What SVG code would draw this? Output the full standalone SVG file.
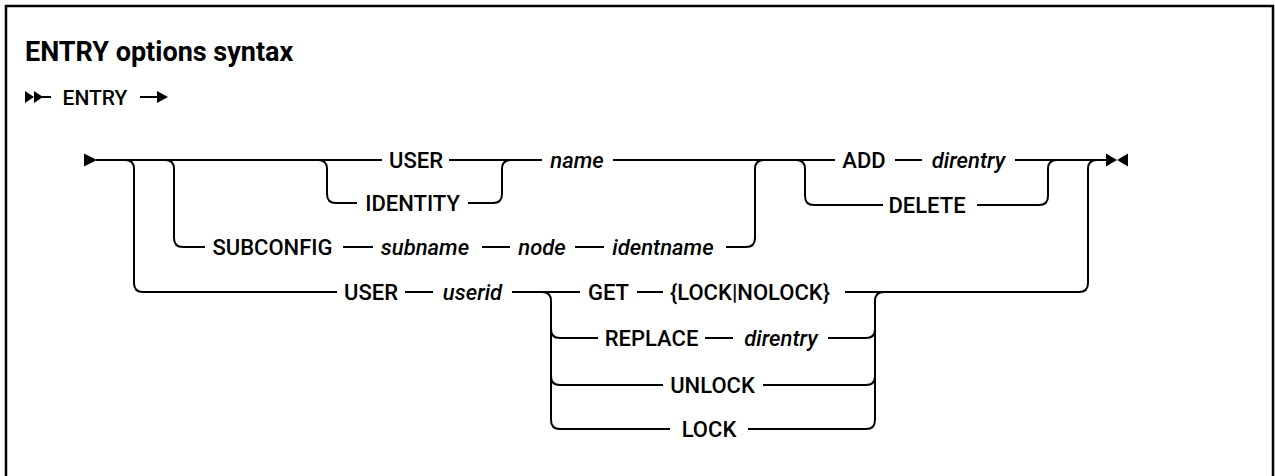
<svg xmlns="http://www.w3.org/2000/svg" width="1275" height="476" viewBox="0 0 1275 476">
<style>
.t{font-family:Roboto,"Liberation Sans",sans-serif;font-size:22px;font-weight:500;fill:#000;text-anchor:middle}
.i{font-style:italic}
.c{fill:none;stroke:#000;stroke-width:2}
.m{fill:#000}
</style>
<rect x="6" y="6" width="1267" height="500" fill="#fff" stroke="#000" stroke-width="2.5"/>
<text x="25" y="61" font-family="Roboto,'Liberation Sans',sans-serif" font-size="27" font-weight="bold" fill="#000">ENTRY options syntax</text>
<g id="start1">
<polygon class="m" points="25,91 34,97 25,103"/>
<polygon class="m" points="34,91 43,97 34,103"/>
<line class="c" x1="42" y1="97" x2="51" y2="97"/>
</g>
<g id="n-entry"><text class="t" x="95" y="104.5" style="font-size:21px">ENTRY</text></g>
<g id="cont1">
<line class="c" x1="140" y1="97" x2="160" y2="97"/>
<polygon class="m" points="157,91 168,97 157,103"/>
</g>
<g id="start2"><polygon class="m" points="84,153.5 97,160 84,166.5"/></g>
<g id="end"><polygon class="m" points="1106,153.5 1117,160 1106,166.5"/><polygon class="m" points="1128,153.5 1117,160 1128,166.5"/></g>
<g id="connectors">
<path class="c" d="M96,160 H382 M449,160 H542 M613,160 H835 M895,160 H922 M1015,160 H1108"/>
<path class="c" d="M318,160 Q327,160 327,169 V194 Q327,203 336,203 H357 M468,203 H493 Q502,203 502,194 V169 Q502,160 511,160"/>
<path class="c" d="M165,160 Q174,160 174,169 V238 Q174,247 183,247 H205 M343,247 H373 M482,247 H510 M575,247 H604 M726,247 H746 Q755,247 755,238 V169 Q755,160 764,160"/>
<path class="c" d="M125,160 Q134,160 134,169 V283 Q134,292 143,292 H337 M405,292 H433 M512,292 H580 M637,292 H663 M845,292 H1079 Q1088,292 1088,283 V169 Q1088,160 1097,160"/>
<path class="c" d="M796,160 Q805,160 805,169 V196 Q805,205 814,205 H883 M977,205 H1039 Q1048,205 1048,196 V169 Q1048,160 1057,160"/>
<path class="c" d="M542,292 Q551,292 551,301 V420 Q551,429 560,429 H670 M551,329 Q551,338 560,338 H598 M551,376 Q551,385 560,385 H663"/>
<path class="c" d="M884,292 Q875,292 875,301 V420 Q875,429 866,429 H748 M828,338 H866 Q875,338 875,329 M763,385 H866 Q875,385 875,376 M705,338 H733"/>
</g>
<g id="n-user1"><text class="t" x="416" y="167.8">USER</text></g>
<g id="n-name"><text class="t i" x="577" y="167.8">name</text></g>
<g id="n-add"><text class="t" x="864" y="167.8">ADD</text></g>
<g id="n-direntry1"><text class="t i" x="968.5" y="167.8">direntry</text></g>
<g id="n-identity"><text class="t" x="412.5" y="210.8">IDENTITY</text></g>
<g id="n-delete"><text class="t" x="927" y="212.8">DELETE</text></g>
<g id="n-subconfig"><text class="t" x="272.5" y="254.8">SUBCONFIG</text></g>
<g id="n-subname"><text class="t i" x="425" y="254.8">subname</text></g>
<g id="n-node"><text class="t i" x="542" y="254.8">node</text></g>
<g id="n-identname"><text class="t i" x="663" y="254.8">identname</text></g>
<g id="n-user2"><text class="t" x="371" y="299.8">USER</text></g>
<g id="n-userid"><text class="t i" x="472.5" y="299.8">userid</text></g>
<g id="n-get"><text class="t" x="608.5" y="299.8">GET</text></g>
<g id="n-locknolock"><text class="t" x="750" y="299.8">{LOCK|NOLOCK}</text></g>
<g id="n-replace"><text class="t" x="651.5" y="345.8">REPLACE</text></g>
<g id="n-direntry2"><text class="t i" x="781" y="345.8">direntry</text></g>
<g id="n-unlock"><text class="t" x="712.5" y="392.8">UNLOCK</text></g>
<g id="n-lock"><text class="t" x="709" y="436.8">LOCK</text></g>
</svg>
